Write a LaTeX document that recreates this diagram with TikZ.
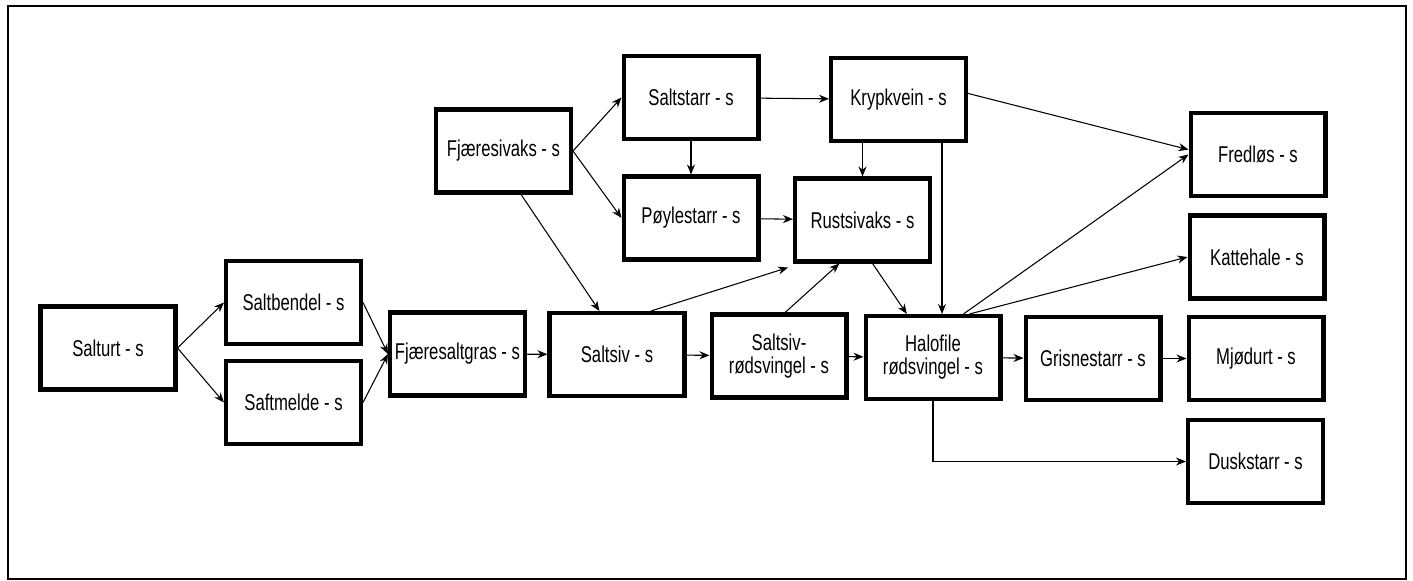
\documentclass[tikz,border=0pt]{standalone}
\usepackage{fontspec}
\setmainfont{Liberation Sans}[FakeStretch=0.73]
\usepackage{tikz}
\usetikzlibrary{arrows.meta}
\tikzset{
    art/.style={draw=black, line width=2.3pt, minimum width=2.7cm, minimum height=1.66cm, inner sep=2pt, align=center, font=\fontsize{13}{13}\selectfont},
    suk/.style={-{Stealth[length=0.2cm, width=0.16cm]}, line width=0.6pt}
}

\begin{document}
\begin{tikzpicture}[x=0.02cm, y=-0.02cm]
        \useasboundingbox (0,0) rectangle (1413,581);
        % Ramme
        \draw[line width=1pt] (8,6) rectangle (1406,579);

        % --- Venstre del ---
        \node[art] (salturt) at (108,348) {Salturt - s};
        \node[art] (saltbendel) at (293.5,302.5) {Saltbendel - s};
        \node[art] (saftmelde) at (293.5,402.5) {Saftmelde - s};
        \node[art] (fjaeresaltgras) at (457.5,354) {Fjæresaltgras - s};
        \node[art] (fjaeresivaks) at (503.5,151) {Fjæresivaks - s};

        % --- Midten ---
        \node[art] (saltstarr) at (691,97.5) {Saltstarr - s};
        \node[art] (poylestarr) at (691,218) {Pøylestarr - s};
        \node[art] (krypkvein) at (898.5,99.5) {Krypkvein - s};
        \node[art] (rustsivaks) at (862.5,220) {Rustsivaks - s};
        \node[art] (saltsiv) at (617,354.5) {Saltsiv - s};
        \node[art] (saltsivrod) at (779,356) {Saltsiv-\\rødsvingel - s};
        \node[art] (halofile) at (933,357.5) {Halofile\\rødsvingel - s};

        % --- Høyre del ---
        \node[art] (grisnestarr) at (1093,358.5) {Grisnestarr - s};
        \node[art] (fredlos) at (1258,154.5) {Fredløs - s};
        \node[art] (kattehale) at (1257,257) {Kattehale - s};
        \node[art] (mjodurt) at (1256,358.5) {Mjødurt - s};
        \node[art] (duskstarr) at (1255.5,461.5) {Duskstarr - s};

        % Piler
        \draw[suk] (salturt.east) -- (saltbendel.west);
        \draw[suk] (salturt.east) -- (saftmelde.west);
        \draw[suk] (saltbendel.east) -- (fjaeresaltgras.west);
        \draw[suk] (saftmelde.east) -- (fjaeresaltgras.west);
        \draw[suk] (fjaeresaltgras) -- (saltsiv);
        \draw[suk] (fjaeresivaks.east) -- (saltstarr.west);
        \draw[suk] (fjaeresivaks.east) -- (poylestarr.west);
        \draw[suk] (fjaeresivaks.-68) -- (saltsiv.112);
        \draw[suk] (saltstarr) -- (krypkvein);
        \draw[suk] (saltstarr) -- (poylestarr);
        \draw[suk] (poylestarr) -- (rustsivaks);
        \draw[suk] (krypkvein.south -| rustsivaks.north) -- (rustsivaks.north);
        \path (halofile.north) ++(9,0) coordinate (kh);
        \draw[suk] (kh |- krypkvein.south) -- (kh);
        \draw[suk] (krypkvein.5) -- (fredlos.176);
        \draw[suk] (saltsiv.52) -- ([shift={(-5,4)}]rustsivaks.south west);
        \draw[suk] (saltsivrod.82) -- (rustsivaks.242);
        \draw[suk] (rustsivaks.-77) -- (halofile.121);
        \draw[suk] (saltsiv) -- (saltsivrod);
        \draw[suk] (saltsivrod) -- (halofile);
        \draw[suk] (halofile.55) -- (fredlos.west);
        \draw[suk] (halofile.50) -- (kattehale.west);
        \draw[suk] (halofile) -- (grisnestarr);
        \draw[suk] (grisnestarr) -- (mjodurt);
        \draw[suk] (halofile.south) |- (duskstarr.west);
\end{tikzpicture}
\end{document}
